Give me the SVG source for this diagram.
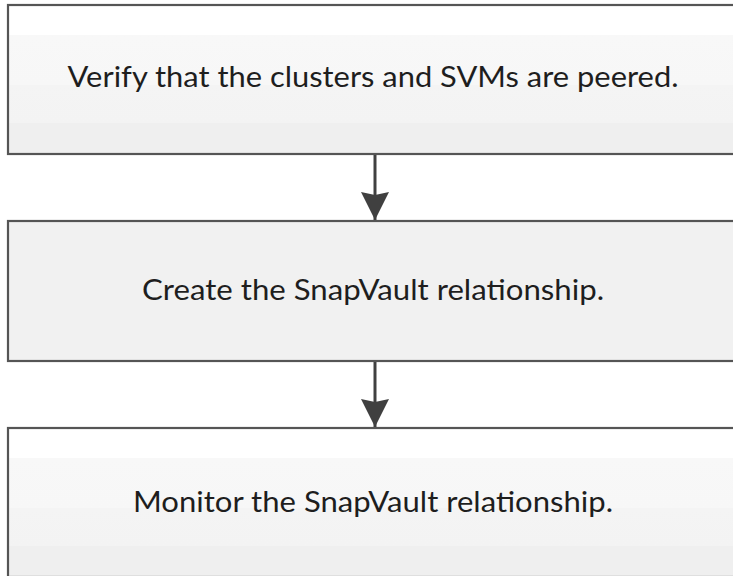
<svg xmlns="http://www.w3.org/2000/svg" width="733" height="576" viewBox="0 0 733 576">
<defs>
<linearGradient id="band" x1="0" y1="0" x2="0" y2="1">
<stop offset="0" stop-color="#ffffff"/>
<stop offset="0.2" stop-color="#ffffff"/>
<stop offset="0.2" stop-color="#f8f8f8"/>
<stop offset="0.54" stop-color="#f7f7f7"/>
<stop offset="0.54" stop-color="#f4f4f4"/>
<stop offset="0.79" stop-color="#f3f3f3"/>
<stop offset="0.79" stop-color="#efefef"/>
<stop offset="1" stop-color="#efefef"/>
</linearGradient>
<marker id="arrow" markerUnits="userSpaceOnUse" markerWidth="30" markerHeight="30" refX="28" refY="14" orient="auto">
<path d="M0,0 L28,14 L0,28 L3,14 Z" fill="#404040"/>
</marker>
<style>
.box{stroke:#555555;stroke-width:2.2}
.b1{fill:url(#band)}
.b2{fill:#f1f1f1}
.lbl{font-family:"Lato","Liberation Sans",sans-serif;font-size:29.5px;fill:#1e1e1e;text-anchor:middle}
.conn{stroke:#404040;stroke-width:3;fill:none}
</style>
</defs>
<rect width="733" height="576" fill="#ffffff"/>
<g id="node1">
<rect class="box b1" x="8" y="5" width="740" height="149"/>
<text class="lbl" x="373" y="87" textLength="611" lengthAdjust="spacingAndGlyphs">Verify that the clusters and SVMs are peered.</text>
</g>
<g id="node2">
<rect class="box b2" x="8" y="221" width="740" height="140"/>
<text class="lbl" x="373" y="300" textLength="462" lengthAdjust="spacingAndGlyphs">Create the SnapVault relationship.</text>
</g>
<g id="node3">
<rect class="box b1" x="8" y="428" width="740" height="149"/>
<text class="lbl" x="373" y="512" textLength="480" lengthAdjust="spacingAndGlyphs">Monitor the SnapVault relationship.</text>
</g>
<g id="connectors">
<line class="conn" x1="375" y1="155" x2="375" y2="220" marker-end="url(#arrow)"/>
<line class="conn" x1="375" y1="362" x2="375" y2="427" marker-end="url(#arrow)"/>
</g>
</svg>
